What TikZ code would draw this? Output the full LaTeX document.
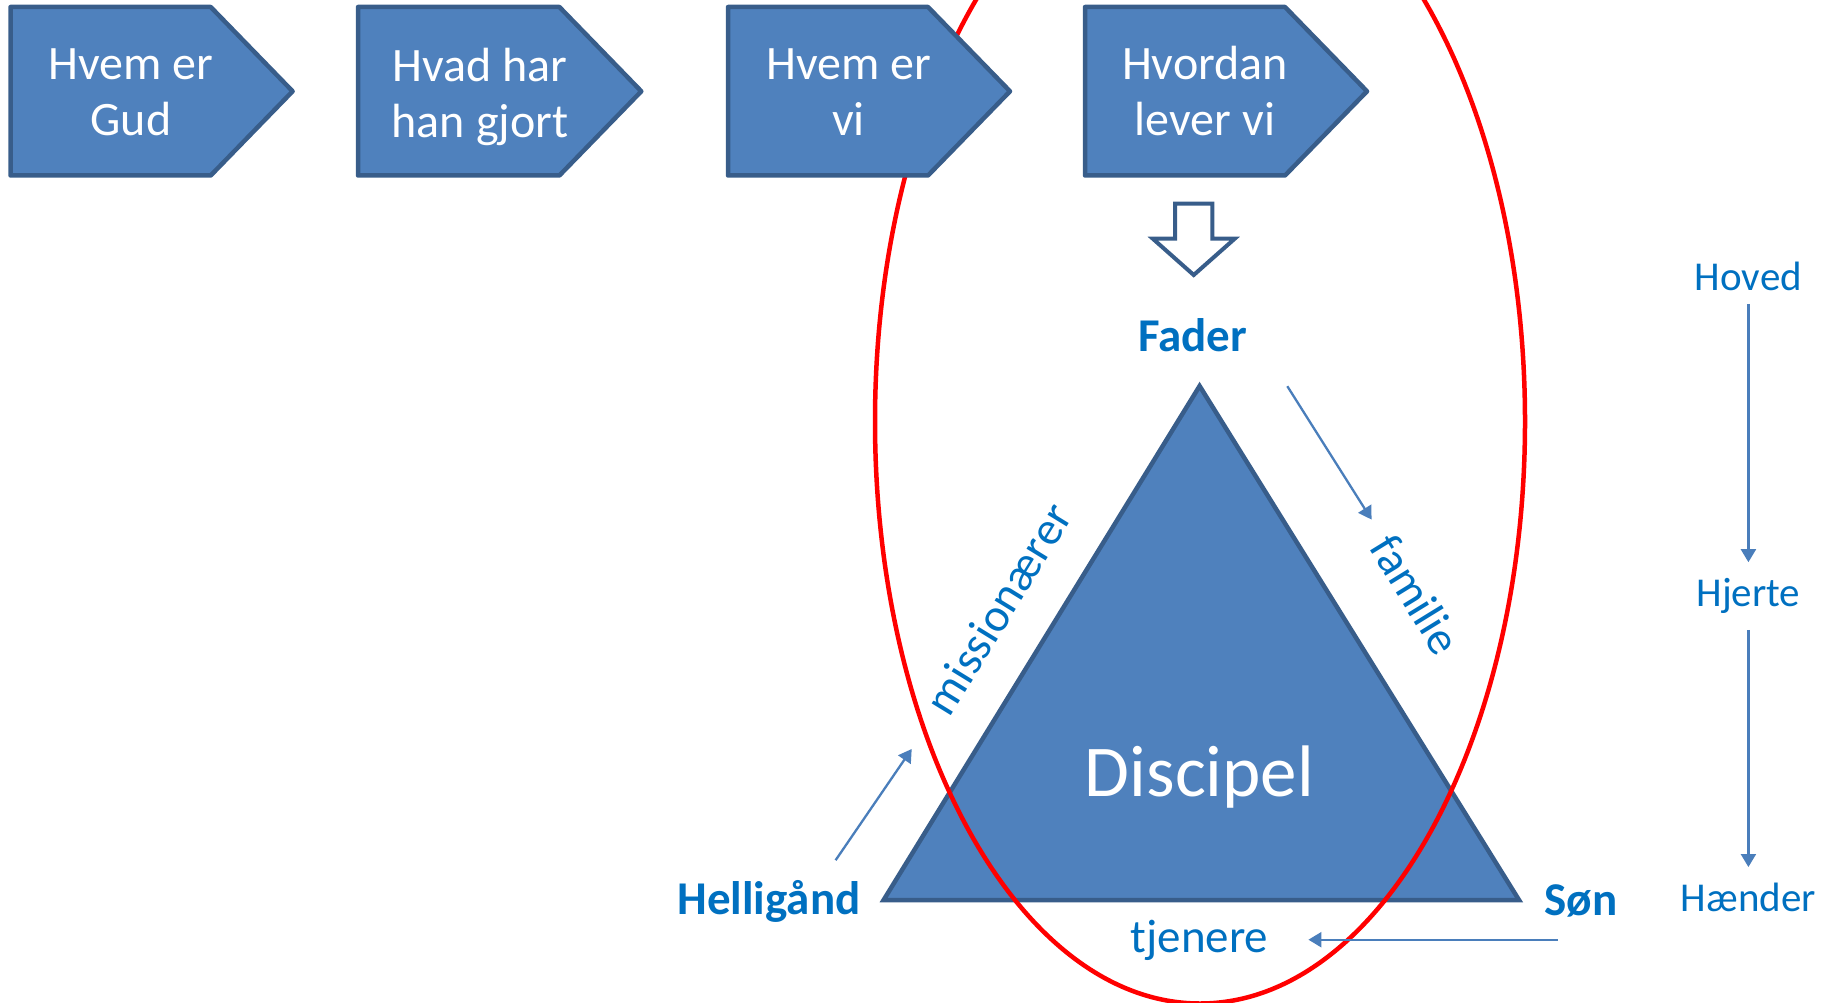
\documentclass[tikz,border=0pt]{standalone}
\usepackage{fontspec}
\setmainfont{Carlito}
\usetikzlibrary{arrows.meta}

\definecolor{boxfill}{RGB}{79,129,189}
\definecolor{boxline}{RGB}{56,93,138}
\definecolor{txtblue}{RGB}{0,112,192}
\definecolor{arrline}{RGB}{74,126,187}

\tikzset{
  chevron/.style={fill=boxfill, draw=boxline, line width=4.5pt, line join=round},
  boxtext/.style={text=white, align=center, inner sep=0pt, font=\fontsize{48}{56}\selectfont},
  person/.style={text=txtblue, inner sep=0pt, font=\fontsize{47}{56}\selectfont\bfseries},
  role/.style={text=txtblue, inner sep=0pt, font=\fontsize{47}{56}\selectfont},
  level/.style={text=txtblue, inner sep=0pt, font=\fontsize{41}{50}\selectfont},
  flowarrow/.style={draw=arrline, line width=2.3pt, -{Triangle[length=13pt,width=15pt]}},
}

\begin{document}
\begin{tikzpicture}[x=1pt,y=1pt,yscale=-1,xscale=1]

\useasboundingbox (0,0) rectangle (1835,1003);

%Shape: Triangle [id:discipel]
\draw [chevron, line join=miter] (1199.6,386) -- (1519,900) -- (883.6,900) -- cycle ;
\node [text=white, inner sep=0pt, font=\fontsize{73}{80}\selectfont] (disc) at (1199.5,777) {Discipel};

%Shape: Ellipse [id:ring]
\draw [color=red, line width=4.5pt] (1200,421.5) ellipse [x radius=325, y radius=582] ;

%Shape: Pentagon [id:p1]
\draw [chevron] (10.5,7) -- (210.7,7) -- (292.6,91.3) -- (210.7,175.5) -- (10.5,175.5) -- cycle ;
\node [boxtext] (gud) at (131,92) {Hvem er\\Gud};
%Shape: Pentagon [id:p2]
\draw [chevron] (358,7) -- (559.4,7) -- (641.3,91.3) -- (559.4,175.5) -- (358,175.5) -- cycle ;
\node [boxtext] (gjort) at (480,97) {Hvad har\\han gjort};
%Shape: Pentagon [id:p3]
\draw [chevron] (728,7) -- (928,7) -- (1010,91.3) -- (928,175.5) -- (728,175.5) -- cycle ;
\node [boxtext] (vi) at (848.5,92) {Hvem er\\vi};
%Shape: Pentagon [id:p4]
\draw [chevron] (1085,7) -- (1285,7) -- (1367,91.3) -- (1285,175.5) -- (1085,175.5) -- cycle ;
\node [boxtext] (lever) at (1205,91) {Hvordan\\lever vi};

%Shape: Down Arrow [id:down]
\draw [draw=boxline, fill=white, line width=4pt] (1175,203.6) -- (1212.4,203.6) -- (1212.4,238.7) -- (1234.7,238.7) -- (1193.7,275) -- (1152.8,238.7) -- (1175,238.7) -- cycle ;

%Text: corners
\node [person] (fader) at (1192.6,335) {Fader};
\node [person] (hellig) at (769,901) {Helligånd};
\node [person] (son) at (1581,901) {Søn};

%Text: sides
\node [role, rotate=58.4] (miss) at (998.3,608.6) {missionærer};
\node [role, rotate=-58.4] (fam) at (1416,594.5) {familie};
\node [role] (tjen) at (1199.5,940) {tjenere};

%Text: levels
\node [level] (hoved) at (1748.4,276.2) {Hoved};
\node [level] (hjerte) at (1748.4,596) {Hjerte};
\node [level] (haender) at (1748.4,897.6) {Hænder};

%Straight Lines
\coordinate (fa1) at (1287.3,386.2);
\coordinate (fa2) at (1371.6,519.6);
\draw [flowarrow] (fa1) -- (fa2) ;
\coordinate (ha1) at (835.6,860.2);
\coordinate (ha2) at (911.7,749);
\draw [flowarrow] (ha1) -- (ha2) ;
\coordinate (sa1) at (1557.7,939.7);
\coordinate (sa2) at (1308.4,939.7);
\draw [flowarrow] (sa1) -- (sa2) ;
\draw [flowarrow, shorten <=13pt, shorten >=16pt] (hoved) -- (hjerte) ;
\draw [flowarrow, shorten <=16pt, shorten >=16pt] (hjerte) -- (haender) ;

\end{tikzpicture}
\end{document}
